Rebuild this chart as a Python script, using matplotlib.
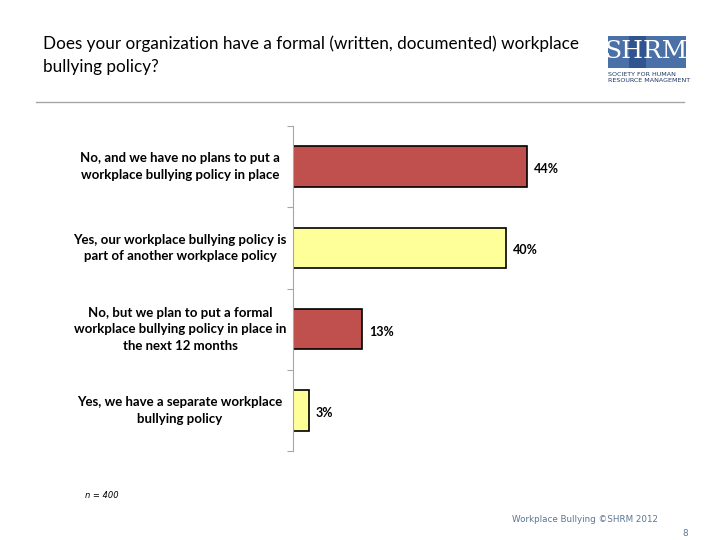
import matplotlib.pyplot as plt
from matplotlib.patches import Rectangle

categories = [
    'No, and we have no plans to put a\nworkplace bullying policy in place',
    'Yes, our workplace bullying policy is\npart of another workplace policy',
    'No, but we plan to put a formal\nworkplace bullying policy in place in\nthe next 12 months',
    'Yes, we have a separate workplace\nbullying policy',
]
values = [44, 40, 13, 3]
value_labels = ['44%', '40%', '13%', '3%']
colors = ['#C0504D', '#FFFF99', '#C0504D', '#FFFF99']

FONT = 'Lato'

fig = plt.figure(figsize=(7.2, 5.4), dpi=100)

# title
fig.text(43 / 720, 1 - 55 / 540,
         'Does your organization have a formal (written, documented) workplace\nbullying policy?',
         fontsize=12.3, family=FONT, va='center', ha='left', linespacing=1.55, color='black')

# rule under title
fig.add_artist(plt.Line2D([36 / 720, 684 / 720], [1 - 102 / 540] * 2,
                          color='#A6A6A6', lw=1))

# chart
ax = fig.add_axes([293 / 720, 1 - 451 / 540, 319 / 720, 325 / 540])
y = list(range(len(values)))
ax.barh(y, values, height=0.5, color=colors, edgecolor='black', linewidth=1.2)
ax.set_ylim(3.5, -0.5)
ax.set_xlim(0, 60)
for yi, v, lab in zip(y, values, value_labels):
    ax.text(v + 1.3, yi + 0.03, lab, va='center', ha='left', fontsize=9,
            fontweight='bold', family=FONT)

# category labels centred around x=180px
for yi, cat in zip(y, categories):
    yd = ax.transData.transform((0, yi))[1] / fig.bbox.height
    fig.text(180 / 720, yd, cat, va='center', ha='center', fontsize=9.5,
             fontweight='bold', family=FONT, linespacing=1.45)

ax.set_yticks([0.5, 1.5, 2.5, 3.5, -0.5])
ax.set_yticklabels([])
ax.tick_params(axis='y', length=4, color='#A6A6A6', direction='out')
ax.set_xticks([])
for s in ['top', 'right', 'bottom']:
    ax.spines[s].set_visible(False)
ax.spines['left'].set_color('#A6A6A6')

# sample size
fig.text(85 / 720, 1 - 495 / 540, 'n = 400', fontsize=6, style='italic',
         family='DejaVu Sans', va='center', ha='left')

# footer
fig.text(512 / 720, 1 - 519 / 540, 'Workplace Bullying ©SHRM 2012', fontsize=6.3,
         family='DejaVu Sans', color='#5A7696', va='center', ha='left')
fig.text(688 / 720, 1 - 533 / 540, '8', fontsize=6.3,
         family='DejaVu Sans', color='#5A7696', va='center', ha='right')

# logo
logo_blue = '#4A70A8'
fig.add_artist(Rectangle((608 / 720, 1 - 68 / 540), 78 / 720, 32 / 540,
                         transform=fig.transFigure, facecolor=logo_blue, edgecolor='none'))
fig.add_artist(Rectangle((629 / 720, 1 - 68 / 540), 17 / 720, 32 / 540,
                         transform=fig.transFigure, facecolor='#2F5490', edgecolor='none'))
fig.text(647 / 720, 1 - 52 / 540, 'SHRM', fontsize=18, family='DejaVu Serif',
         color='white', ha='center', va='center')
fig.text(608 / 720, 1 - 74 / 540, 'SOCIETY FOR HUMAN', fontsize=4.6,
         family='DejaVu Sans', color='#1F3864', ha='left', va='center')
fig.text(608 / 720, 1 - 81 / 540, 'RESOURCE MANAGEMENT', fontsize=4.6,
         family='DejaVu Sans', color='#1F3864', ha='left', va='center')

fig.savefig('out.png', dpi=100)
